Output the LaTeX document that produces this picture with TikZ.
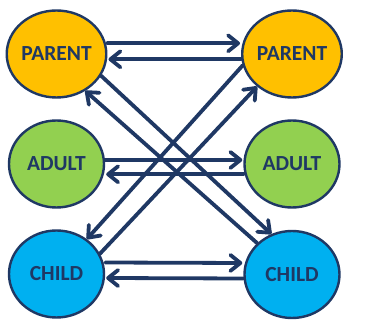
\documentclass[tikz,border=0pt]{standalone}
\usepackage{fontspec}
\setmainfont{Carlito}
\usetikzlibrary{shapes.geometric,arrows.meta}
\definecolor{navy}{HTML}{1F3864}
\definecolor{cparent}{HTML}{FFC000}
\definecolor{cadult}{HTML}{92D050}
\definecolor{cchild}{HTML}{00B0F0}
\tikzset{
  role/.style={ellipse, draw=navy, line width=2.4pt, minimum width=95pt, minimum height=87pt,
    inner sep=0pt, text=navy, font=\fontsize{21.5}{24}\selectfont\bfseries},
  link/.style={draw=navy, line width=3.8pt, line cap=round, line join=round,
    -{Straight Barb[length=10pt,width=16pt,line cap=round,line join=round]}}
}
\begin{document}
\begin{tikzpicture}[x=1pt,y=-1pt]
\useasboundingbox (0,0) rectangle (365,328);
\node[role, fill=cparent] (pl) at (56.5,54) {PARENT};
\node[role, fill=cparent] (pr) at (292,54) {PARENT};
\node[role, fill=cadult] (al) at (56.5,164) {ADULT};
\node[role, fill=cadult] (ar) at (292,164) {ADULT};
\node[role, fill=cchild] (cl) at (56.5,274) {CHILD};
\node[role, fill=cchild] (cr) at (292,274.5) {CHILD};
% horizontal pairs (yshift in canvas units: positive is up)
\draw[link] ([yshift=10.7pt]pl.east) -- ([yshift=10.7pt,xshift=-1pt]pr.west);
\draw[link] ([yshift=-5.3pt]pr.west) -- ([yshift=-5.3pt,xshift=1pt]pl.east);
\draw[link] ([yshift=4pt]al.east) -- ([yshift=4pt,xshift=-1pt]ar.west);
\draw[link] ([yshift=-10.3pt]ar.west) -- ([yshift=-10.3pt,xshift=1pt]al.east);
\draw[link] ([yshift=11.5pt]cl.east) -- ([yshift=11.5pt,xshift=-1pt]cr.west);
\draw[link] ([yshift=-4pt]cr.west) -- ([yshift=-4pt,xshift=1pt]cl.east);
% diagonals
\draw[link] (pl.-26) -- (cr.117);
\draw[link] (cr.138) -- (pl.-52);
\draw[link] (pr.193) -- (cl.49);
\draw[link] (cl.25) -- (pr.-137);
\end{tikzpicture}
\end{document}
